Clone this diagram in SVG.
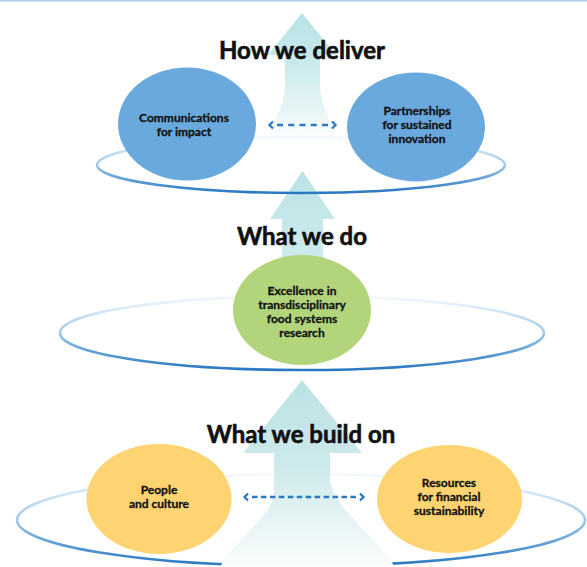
<svg xmlns="http://www.w3.org/2000/svg" width="587" height="567" viewBox="0 0 587 567">
  <style>
    .title { font-family: Lato, "Open Sans", "Liberation Sans", sans-serif; font-weight: 700; font-size: 24px; fill: #111; stroke: #111; stroke-width: 0.6; text-anchor: middle; }
    .label { font-family: Lato, "Open Sans", "Liberation Sans", sans-serif; font-weight: 700; font-size: 12px; fill: #111; stroke: #111; stroke-width: 0.3; text-anchor: middle; }
    .ring { fill: none; stroke: url(#ringGrad); stroke-width: 2.6; }
    .blue { fill: #6aa9dd; }
    .green { fill: #b2d57b; }
    .orange { fill: #fed371; }
    .link { stroke: #2a79c3; stroke-width: 2.6; fill: none; marker-start: url(#chev); marker-end: url(#chev); }
  </style>
  <defs>
    <linearGradient id="ringGrad" x1="0" y1="0" x2="0" y2="1">
      <stop offset="0" stop-color="#f4f9fd"/>
      <stop offset="0.5" stop-color="#9fc9ea"/>
      <stop offset="1" stop-color="#2877c1"/>
    </linearGradient>
    <linearGradient id="arrowTopGrad" gradientUnits="userSpaceOnUse" x1="0" y1="13" x2="0" y2="140">
      <stop offset="0" stop-color="#b9e2e6"/>
      <stop offset="0.4" stop-color="#cae9ec"/>
      <stop offset="0.85" stop-color="#eef8f9"/>
      <stop offset="1" stop-color="#ffffff"/>
    </linearGradient>
    <linearGradient id="arrowMidGrad" gradientUnits="userSpaceOnUse" x1="0" y1="171" x2="0" y2="260">
      <stop offset="0" stop-color="#bce3e6"/>
      <stop offset="1" stop-color="#cdebed"/>
    </linearGradient>
    <linearGradient id="arrowBotGrad" gradientUnits="userSpaceOnUse" x1="0" y1="380" x2="0" y2="567">
      <stop offset="0" stop-color="#bbe2e5"/>
      <stop offset="0.45" stop-color="#cde9eb"/>
      <stop offset="1" stop-color="#fafdfd"/>
    </linearGradient>
    <marker id="chev" viewBox="0 0 8 10" markerWidth="8" markerHeight="10" markerUnits="userSpaceOnUse" refX="-3" refY="5" orient="auto-start-reverse">
      <path d="M1,1.5 L4.5,5 L1,8.5" fill="none" stroke="#2a79c3" stroke-width="2.3" stroke-linejoin="miter"/>
    </marker>
  </defs>

  <!-- top rule -->
  <rect x="0" y="0" width="587" height="1.6" fill="#b0d3f0"/>

  <!-- upward arrows -->
  <g id="arrows">
    <path id="arrow-mid" d="M302.5,171 L335,219 L323,219 L323,268 L282,268 L282,219 L270,219 Z" fill="url(#arrowMidGrad)"/>
    <path id="arrow-top" d="M302,13 L336,55 L320,55 L320,84 C320,104 330,118 338,140 L267,140 C275,118 285,104 285,84 L285,55 L268,55 Z" fill="url(#arrowTopGrad)"/>
  </g>

  <!-- level: how we deliver -->
  <ellipse id="ring-deliver" class="ring" cx="301" cy="165" rx="204" ry="28"/>
  <g id="node-communications">
    <ellipse class="blue" cx="187" cy="124" rx="69" ry="56.5"/>
    <text class="label" x="184" y="122">Communications</text>
    <text class="label" x="184" y="136">for impact</text>
  </g>
  <g id="node-partnerships">
    <ellipse class="blue" cx="416" cy="127" rx="69" ry="54.5"/>
    <text class="label" x="417" y="115">Partnerships</text>
    <text class="label" x="417" y="129">for sustained</text>
    <text class="label" x="417" y="143">innovation</text>
  </g>
  <text class="title" x="302" y="59">How we deliver</text>

  <!-- level: what we do -->
  <ellipse id="ring-do" class="ring" cx="302" cy="333" rx="242" ry="37"/>
  <g id="node-excellence">
    <ellipse class="green" cx="302" cy="310" rx="69" ry="55"/>
    <text class="label" x="302" y="295">Excellence in</text>
    <text class="label" x="302" y="309">transdisciplinary</text>
    <text class="label" x="302" y="323">food systems</text>
    <text class="label" x="302" y="337">research</text>
  </g>
  <text class="title" x="302" y="245">What we do</text>

  <!-- level: what we build on -->
  <ellipse id="ring-build" class="ring" cx="301" cy="520" rx="284" ry="46"/>
  <path id="arrow-bottom" d="M302,380 L362,453 L330,453 L330,478 C330,505 372,532 395,567 L220,567 C238,535 274,515 274,492 L274,453 L243,453 Z" fill="url(#arrowBotGrad)"/>
  <g id="node-people">
    <ellipse class="orange" cx="159" cy="499" rx="72.5" ry="55"/>
    <text class="label" x="159" y="494">People</text>
    <text class="label" x="159" y="508">and culture</text>
  </g>
  <g id="node-resources">
    <ellipse class="orange" cx="449.5" cy="499" rx="72.5" ry="54"/>
    <text class="label" x="449" y="487">Resources</text>
    <text class="label" x="449" y="501">for financial</text>
    <text class="label" x="449" y="515">sustainability</text>
  </g>
  <text class="title" x="301" y="443">What we build on</text>

  <!-- two-way links -->
  <g id="connectors">
    <line class="link" x1="277" y1="125" x2="328" y2="125" stroke-dasharray="6 5.25"/>
    <line class="link" x1="252" y1="497" x2="356" y2="497" stroke-dasharray="5.5 3.45"/>
  </g>
</svg>
